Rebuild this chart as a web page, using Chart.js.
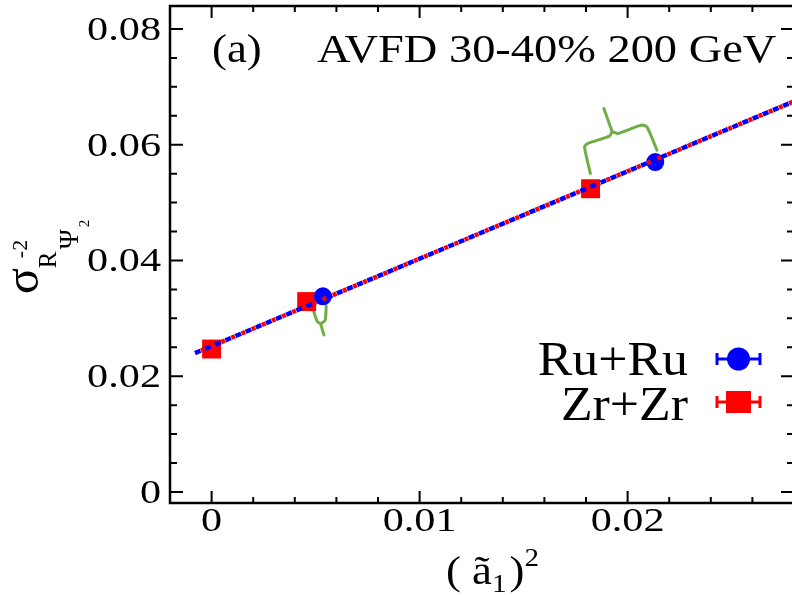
<!DOCTYPE html>
<html>
<head>
<meta charset="utf-8">
<script src="https://cdn.jsdelivr.net/npm/chart.js@4"></script>
<style>
  html, body { margin: 0; padding: 0; background: #fff; overflow: hidden; }
  #wrap { width: 792px; height: 595px; overflow: hidden; }
</style>
</head>
<body>
<div id="wrap"><canvas id="c" width="796" height="595"></canvas></div>
<script>
// данные
const zrX = [0, 0.00457, 0.01822];
const zrY = [0.0247, 0.0329, 0.0524];
const ruX = [0.00535, 0.02133];
const ruY = [0.0338, 0.0570];
const fitX = [-0.0008, 0.028];
const fitY = [0.0240, 0.0675];

const xTicks = [0, 0.01, 0.02];
const xTickLabels = ['0', '0.01', '0.02'];
const yTicks = [0, 0.02, 0.04, 0.06, 0.08];
const yTickLabels = ['0', '0.02', '0.04', '0.06', '0.08'];

// фигурные скобки (аннотации)
const braceBigX = [0.01821, 0.01793, 0.01809, 0.01913, 0.01926, 0.01953, 0.02066, 0.02093, 0.02141];
const braceBigY = [0.05504, 0.05964, 0.06022, 0.06149, 0.06223, 0.06195, 0.06339, 0.06309, 0.05907];
const stemBigX = [0.01926, 0.01886];
const stemBigY = [0.06223, 0.06627];
const braceSmallX = [0.00483, 0.00507, 0.00524, 0.00546, 0.00551];
const braceSmallY = [0.03212, 0.02953, 0.02910, 0.02971, 0.03212];
const stemSmallX = [0.00524, 0.00540];
const stemSmallY = [0.02910, 0.02712];

const pts = (xs, ys) => xs.map((x, i) => ({ x: x, y: ys[i] }));
const FONT = '"Liberation Serif", "DejaVu Serif", serif';
const GREEN = '#70ad47';

// текст с горизонтальным растяжением
function txt(ctx, s, x, y, size, align, sx) {
    ctx.save();
    ctx.font = size + 'px ' + FONT;
    ctx.translate(x, y);
    ctx.scale(sx, 1);
    ctx.textAlign = align;
    ctx.textBaseline = 'alphabetic';
    ctx.fillStyle = '#000';
    ctx.fillText(s, 0, 0);
    const w = ctx.measureText(s).width * sx;
    ctx.restore();
    return w;
}

const framePlugin = {
    id: 'frame',
    afterDraw(chart) {
        const ctx = chart.ctx;
        const a = chart.chartArea;
        const xs = chart.scales.x, ys = chart.scales.y;
        ctx.save();
        ctx.strokeStyle = '#000';
        ctx.lineWidth = 2;
        // тики x
        for (let i = 0; i <= 14; i++) {
            const v = i * 0.002;
            const px = xs.getPixelForValue(v);
            const major = i % 5 === 0;
            const len = major ? 12 : 6;
            ctx.beginPath();
            ctx.moveTo(px, a.bottom); ctx.lineTo(px, a.bottom - len);
            ctx.moveTo(px, a.top); ctx.lineTo(px, a.top + len);
            ctx.stroke();
        }
        // тики y
        for (let i = 0; i <= 16; i++) {
            const v = i * 0.005;
            const py = ys.getPixelForValue(v);
            const major = i % 4 === 0;
            const len = major ? 13 : 7;
            ctx.beginPath();
            ctx.moveTo(a.left, py); ctx.lineTo(a.left + len, py);
            ctx.moveTo(a.right, py); ctx.lineTo(a.right - len, py);
            ctx.stroke();
        }
        ctx.lineWidth = 2.5;
        ctx.strokeRect(a.left, a.top, a.right - a.left, a.bottom - a.top);
        ctx.restore();

        // подписи тиков
        xTicks.forEach((v, i) => txt(ctx, xTickLabels[i], xs.getPixelForValue(v), 531, 33, 'center', 1.28));
        yTicks.forEach((v, i) => txt(ctx, yTickLabels[i], 161, ys.getPixelForValue(v) + 11, 33, 'right', 1.28));

        // заголовок
        txt(ctx, '(a)', 212, 62, 40, 'left', 1.12);
        txt(ctx, 'AVFD 30-40% 200 GeV', 317, 62, 40, 'left', 1.16);

        // подпись оси x
        let x = 446;
        x += txt(ctx, '( ã', x, 584, 40, 'left', 1.12);
        x += txt(ctx, '1', x, 592, 26, 'left', 1.12);
        x += txt(ctx, ')', x + 3, 584, 40, 'left', 1.12) + 3;
        txt(ctx, '2', x, 566, 26, 'left', 1.12);

        // подпись оси y (повернутая)
        ctx.save();
        ctx.translate(38, 294);
        ctx.rotate(-Math.PI / 2);
        const w = txt(ctx, 'σ', 0, 0, 48, 'left', 1);
        txt(ctx, '-2', w + 10, -11, 22, 'left', 1);
        txt(ctx, 'R', w, 18, 25, 'left', 1);
        txt(ctx, 'Ψ', w + 19, 40, 27, 'left', 1);
        txt(ctx, '2', w + 41, 51, 15, 'left', 1);
        ctx.restore();

        // легенда
        txt(ctx, 'Ru+Ru', 688, 375, 48, 'right', 1.08);
        txt(ctx, 'Zr+Zr', 688, 420, 48, 'right', 1.08);
        const drawBar = (cy, color) => {
            ctx.save();
            ctx.strokeStyle = color;
            ctx.lineWidth = 3;
            ctx.beginPath();
            ctx.moveTo(717, cy); ctx.lineTo(760, cy);
            ctx.moveTo(717, cy - 6); ctx.lineTo(717, cy + 6);
            ctx.moveTo(760, cy - 6); ctx.lineTo(760, cy + 6);
            ctx.stroke();
            ctx.restore();
        };
        drawBar(359, '#0000ff');
        ctx.save();
        ctx.fillStyle = '#0000ff';
        ctx.beginPath();
        ctx.arc(738.5, 359, 11.5, 0, Math.PI * 2);
        ctx.fill();
        ctx.restore();
        drawBar(402, '#ff0000');
        ctx.save();
        ctx.fillStyle = '#ff0000';
        ctx.fillRect(726, 391, 25, 22);
        ctx.restore();
    }
};

const lineStyle = { showLine: true, pointRadius: 0, fill: false, borderWidth: 4.5, borderCapStyle: 'butt' };
const braceStyle = { showLine: true, pointRadius: 0, fill: false, borderWidth: 3, borderColor: GREEN, tension: 0.2, borderCapStyle: 'round', borderJoinStyle: 'round' };

new Chart(document.getElementById('c').getContext('2d'), {
    type: 'scatter',
    data: {
        datasets: [
            Object.assign({ label: 'fit Ru', data: pts(fitX, fitY), borderColor: '#0000ff', borderDash: [6, 5], borderDashOffset: 0 }, lineStyle),
            Object.assign({ label: 'fit Zr', data: pts(fitX, fitY), borderColor: '#ff0000', borderDash: [4, 7], borderDashOffset: 4.5 }, lineStyle),
            { label: 'Ru+Ru', data: pts(ruX, ruY), pointStyle: 'circle', pointRadius: 9, backgroundColor: '#0000ff', borderColor: '#0000ff', borderWidth: 0 },
            { label: 'Zr+Zr', data: pts(zrX, zrY), pointStyle: 'rect', pointRadius: 13.4, backgroundColor: '#ff0000', borderColor: '#ff0000', borderWidth: 0 },
            Object.assign({ label: 'b1', data: pts(braceBigX, braceBigY) }, braceStyle),
            Object.assign({ label: 'b2', data: pts(stemBigX, stemBigY) }, braceStyle),
            Object.assign({ label: 'b3', data: pts(braceSmallX, braceSmallY) }, braceStyle),
            Object.assign({ label: 'b4', data: pts(stemSmallX, stemSmallY) }, braceStyle)
        ]
    },
    options: {
        responsive: false,
        animation: false,
        devicePixelRatio: 1,
        layout: { autoPadding: false, padding: { top: 6, right: 2, left: 0, bottom: 0 } },
        plugins: { legend: { display: false }, tooltip: { enabled: false } },
        scales: {
            x: {
                type: 'linear', min: -0.002, max: 0.028,
                grid: { display: false }, border: { display: false },
                ticks: { display: false },
                afterFit(s) { s.height = 92; }
            },
            y: {
                type: 'linear', min: -0.0019, max: 0.08397,
                grid: { display: false }, border: { display: false },
                ticks: { display: false },
                afterFit(s) { s.width = 170; }
            }
        }
    },
    plugins: [framePlugin]
});
</script>
</body>
</html>
